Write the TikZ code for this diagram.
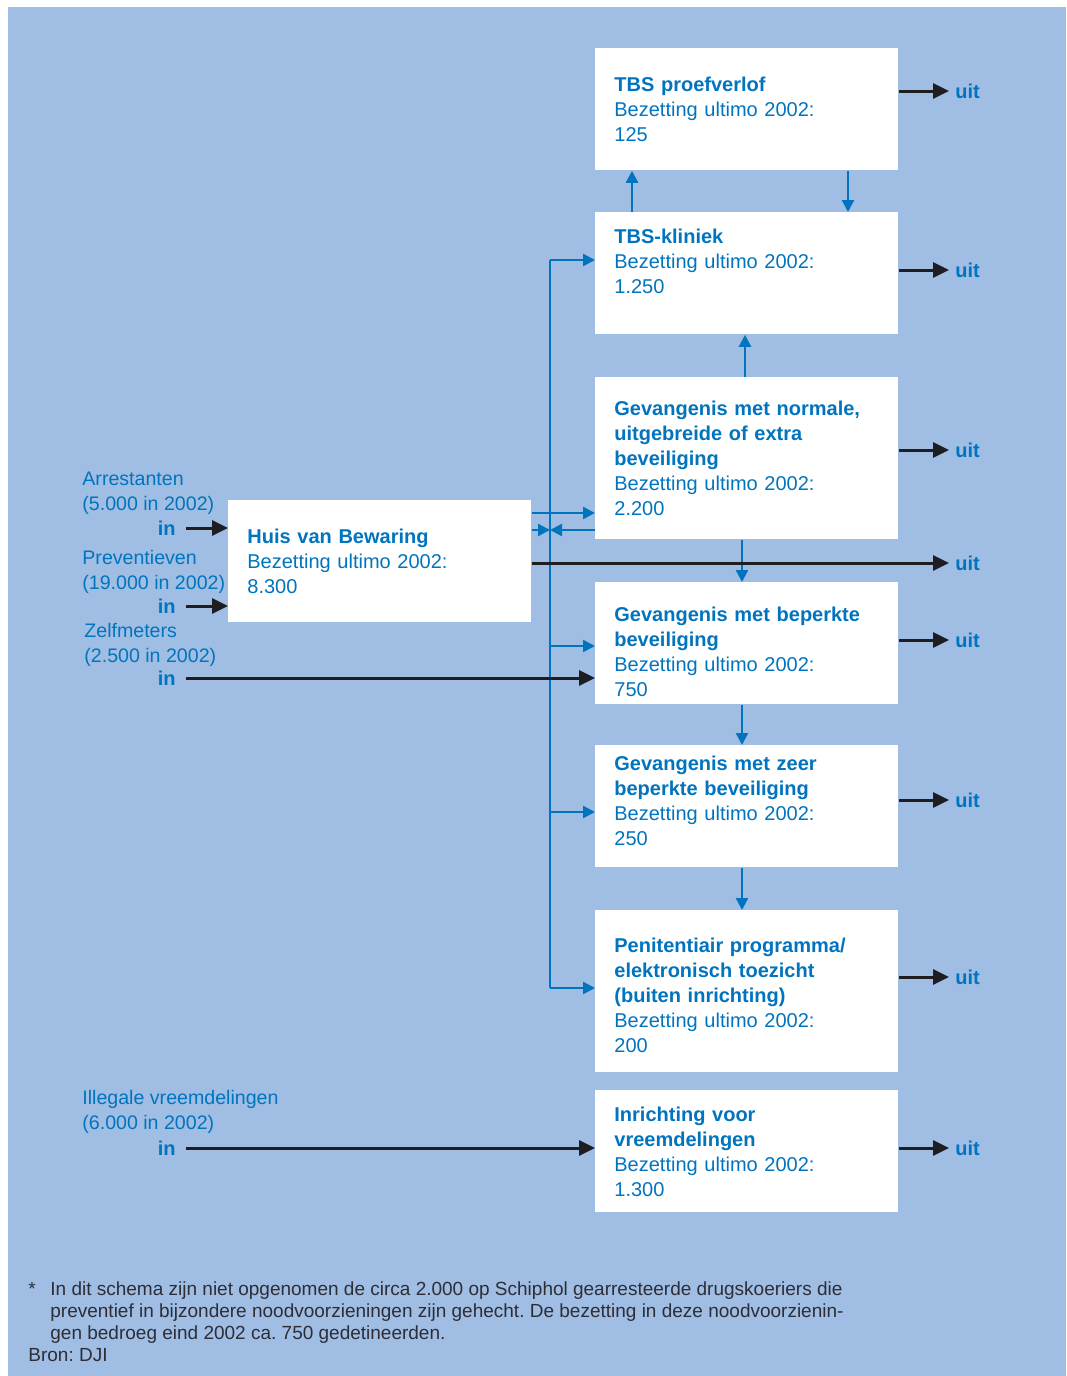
\documentclass[tikz,border=0pt]{standalone}
\usepackage{fontspec}
\setmainfont{Liberation Sans}
\usepackage{tikz}
\usetikzlibrary{shapes,arrows.meta,positioning,calc}
\definecolor{panelblue}{RGB}{160, 190, 228}
\definecolor{inkblue}{RGB}{0, 116, 190}
\definecolor{inkdark}{RGB}{30, 30, 34}
\definecolor{notegray}{RGB}{45, 45, 55}
\newcommand{\padtop}[1]{\rule{0pt}{#1}}
\newcommand{\padbot}[1]{\rule[-#1]{0pt}{#1}}
\frenchspacing

\begin{document}
\begin{tikzpicture}[x=0.5pt,y=-0.5pt,
    font=\fontsize{10}{12.5}\selectfont,
    box/.style={fill=white, text=inkblue, anchor=north west, align=left,
        text width=132.5pt, inner xsep=9.5pt, inner ysep=0pt, minimum height=61pt},
    tallbox/.style={box, minimum height=81pt},
    lbl/.style={text=inkblue, align=left, anchor=north west, inner sep=0pt, font=\fontsize{9.8}{12.5}\selectfont},
    innode/.style={text=inkblue, font=\fontsize{10}{12.5}\selectfont\bfseries, anchor=east, inner xsep=5pt, inner ysep=0pt},
    uitnode/.style={text=inkblue, font=\fontsize{10}{12.5}\selectfont\bfseries, anchor=west, inner xsep=3pt, inner ysep=0pt},
    flowb/.style={inkblue, line width=1.2pt, -{Triangle[length=6pt,width=6pt]}},
    flowk/.style={inkdark, line width=1.5pt, -{Triangle[length=8pt,width=7.5pt]}},
]
    % panel
    \fill[white] (0,0) rectangle (1066,1376);
    \fill[panelblue] (8,7) rectangle (1066,1376);

    % boxes
    \node[box] (proef) at (595,48) {\textbf{TBS proefverlof}\\Bezetting ultimo 2002:\\125};
    \node[box] (klin) at (595,212) {\textbf{TBS-kliniek}\\Bezetting ultimo 2002:\\1.250\\\mbox{}};
    \node[tallbox] (norm) at (595,377) {\textbf{Gevangenis met normale,}\\\textbf{uitgebreide of extra}\\\textbf{beveiliging}\\Bezetting ultimo 2002:\\2.200};
    \node[box] (bep) at (595,582) {\padtop{15.3pt}\textbf{Gevangenis met beperkte}\\\textbf{beveiliging}\\Bezetting ultimo 2002:\\750};
    \node[box] (zeer) at (595,745) {\textbf{Gevangenis met zeer}\\\textbf{beperkte beveiliging}\\Bezetting ultimo 2002:\\250\padbot{6pt}};
    \node[tallbox] (pen) at (595,910) {\padtop{11.3pt}\textbf{Penitentiair programma/}\\\textbf{elektronisch toezicht}\\\textbf{(buiten inrichting)}\\Bezetting ultimo 2002:\\200};
    \node[box] (vreem) at (595,1090) {\textbf{Inrichting voor}\\\textbf{vreemdelingen}\\Bezetting ultimo 2002:\\1.300};
    \node[box] (hvb) at (228,500) {\textbf{Huis van Bewaring}\\Bezetting ultimo 2002:\\8.300};

    % inflow labels
    \node[lbl] (arr) at (82,472) {Arrestanten\\(5.000 in 2002)};
    \node[lbl] (prev) at (82,550) {Preventieven\\(19.000 in 2002)};
    \node[lbl] (zelf) at (84,623) {Zelfmeters\\(2.500 in 2002)};
    \node[lbl] (illeg) at (82,1090) {Illegale vreemdelingen\\(6.000 in 2002)};
    \node[innode] (in1) at (186,528) {in};
    \node[innode] (in2) at (186,606) {in};
    \node[innode] (in3) at (186,678) {in};
    \node[innode] (in4) at (186,1148) {in};

    % outflow labels
    \node[uitnode] (u1) at (949,91) {uit};
    \node[uitnode] (u2) at (949,270) {uit};
    \node[uitnode] (u3) at (949,450) {uit};
    \node[uitnode] (u0) at (949,563) {uit};
    \node[uitnode] (u4) at (949,640) {uit};
    \node[uitnode] (u5) at (949,800) {uit};
    \node[uitnode] (u6) at (949,977) {uit};
    \node[uitnode] (u7) at (949,1148) {uit};

    % transfers between institutions
    \draw[flowb] ($(klin.north west)+(37,0)$) -- ($(proef.south west)+(37,0)$);
    \draw[flowb] ($(proef.south west)+(253,0)$) -- ($(klin.north west)+(253,0)$);
    \draw[flowb] ($(norm.north west)+(150,0)$) -- ($(klin.south west)+(150,0)$);
    \draw[flowb] ($(norm.south west)+(147,0)$) -- ($(bep.north west)+(147,0)$);
    \draw[flowb] ($(bep.south west)+(147,0)$) -- ($(zeer.north west)+(147,0)$);
    \draw[flowb] ($(zeer.south west)+(147,0)$) -- ($(pen.north west)+(147,0)$);

    % trunk from Huis van Bewaring
    \coordinate (t0) at (550,260);
    \coordinate (t2) at (550,646);
    \coordinate (t3) at (550,812);
    \coordinate (t4) at (550,988);
    \coordinate (h1) at ($(hvb.north east)+(0,13)$);
    \coordinate (h2) at ($(hvb.north east)+(0,30)$);
    \draw[inkblue, line width=1.2pt] (t0) -- (t4);
    \draw[flowb] (t0) -- (t0 -| klin.west);
    \draw[flowb] (t2) -- (t2 -| bep.west);
    \draw[flowb] (t3) -- (t3 -| zeer.west);
    \draw[flowb] (t4) -- (t4 -| pen.west);
    \draw[flowb] (h1) -- (h1 -| norm.west);
    \draw[flowb] (h2) -- (h2 -| t0);
    \draw[flowb] (h2 -| norm.west) -- (h2 -| t0);

    % in and out
    \draw[flowk] (in1.east) -- (in1 -| hvb.west);
    \draw[flowk] (in2.east) -- (in2 -| hvb.west);
    \draw[flowk] (in3.east) -- (in3 -| bep.west);
    \draw[flowk] (in4.east) -- (in4 -| vreem.west);
    \draw[flowk] (hvb.east |- u0.west) -- (u0.west);
    \draw[flowk] (proef.east |- u1.west) -- (u1.west);
    \draw[flowk] (klin.east |- u2.west) -- (u2.west);
    \draw[flowk] (norm.east |- u3.west) -- (u3.west);
    \draw[flowk] (bep.east |- u4.west) -- (u4.west);
    \draw[flowk] (zeer.east |- u5.west) -- (u5.west);
    \draw[flowk] (pen.east |- u6.west) -- (u6.west);
    \draw[flowk] (vreem.east |- u7.west) -- (u7.west);

    % footnote
    \node[anchor=north west, inner sep=0pt, text=notegray, font=\fontsize{9.5}{11}\selectfont] (note) at (28,1280)
        {\begin{tabular}{@{}p{11pt}@{}l@{}}
        * & In dit schema zijn niet opgenomen de circa 2.000 op Schiphol gearresteerde drugskoeriers die\\
          & preventief in bijzondere noodvoorzieningen zijn gehecht. De bezetting in deze noodvoorzienin-\\
          & gen bedroeg eind 2002 ca. 750 gedetineerden.\\
        \multicolumn{2}{@{}l@{}}{Bron: DJI}
        \end{tabular}};
\end{tikzpicture}
\end{document}
